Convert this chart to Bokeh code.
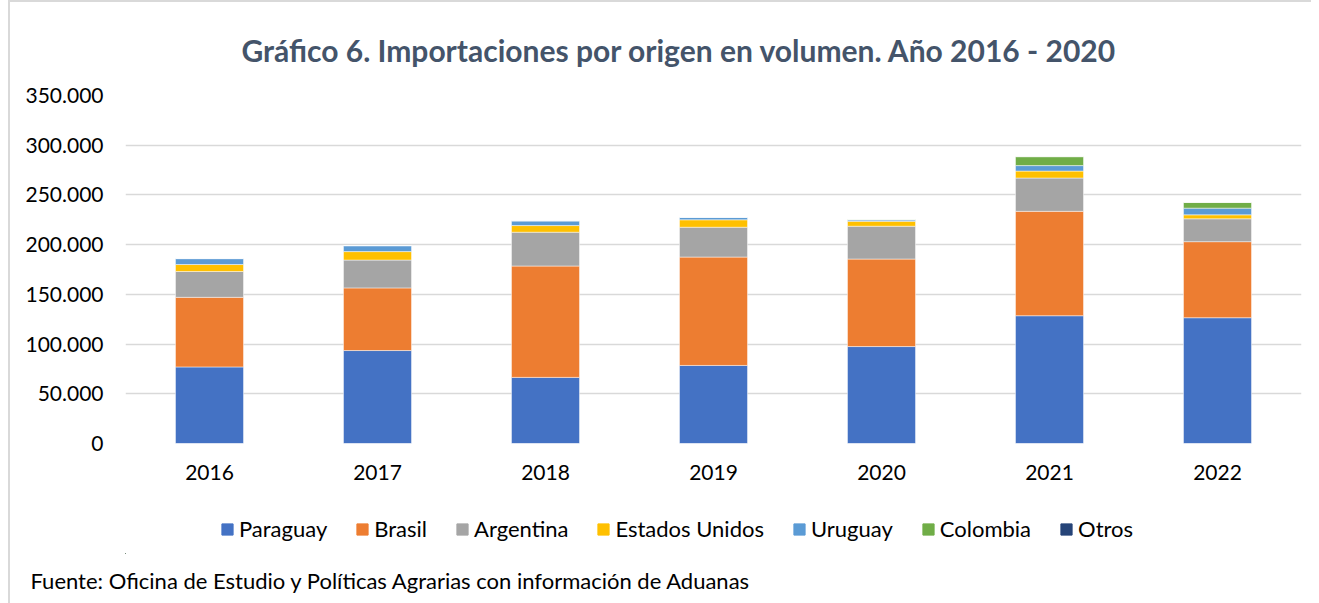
from bokeh.plotting import figure
from bokeh.layouts import column
from bokeh.models import (FactorRange, Range1d, Legend, LegendItem, Title,
                          CustomJSTickFormatter, FixedTicker)
from bokeh.embed import file_html
from bokeh.resources import INLINE

years = ["2016", "2017", "2018", "2019", "2020", "2021", "2022"]
paraguay = [77000, 93500, 66500, 78500, 97500, 128500, 126500]
brasil = [70000, 63000, 112000, 109000, 88000, 105000, 76500]
argentina = [26000, 28000, 34000, 30000, 33000, 33500, 23000]
estados_unidos = [7000, 8500, 6700, 7500, 5000, 7000, 4000]
uruguay = [6000, 6000, 4800, 2500, 1300, 5500, 6700]
colombia = [0, 0, 0, 0, 500, 9000, 5700]
otros = [0, 0, 0, 0, 0, 0, 0]

series_names = ["Paraguay", "Brasil", "Argentina", "Estados Unidos", "Uruguay", "Colombia", "Otros"]
series_keys = ["paraguay", "brasil", "argentina", "eeuu", "uruguay", "colombia", "otros"]
colors = ["#4472C4", "#ED7D31", "#A5A5A5", "#FFC000", "#5B9BD5", "#70AD47", "#264478"]

title_text = "Gráfico 6. Importaciones por origen en volumen. Año 2016 - 2020"
footer_text = "Fuente: Oficina de Estudio y Políticas Agrarias con información de Aduanas"

data = dict(years=years, paraguay=paraguay, brasil=brasil, argentina=argentina,
            eeuu=estados_unidos, uruguay=uruguay, colombia=colombia, otros=otros)

FONT = "Lato"

# ---- main chart ----
p = figure(x_range=FactorRange(*years, range_padding=0), y_range=Range1d(0, 350000),
           frame_width=1176, frame_height=348,
           min_border_left=115, min_border_right=10, min_border_top=85, min_border_bottom=60,
           output_backend="svg", toolbar_location=None, tools="")

p.vbar_stack(series_keys, x="years", width=0.405, color=colors, source=data,
             line_color="white", line_alpha=0.6, line_width=0.8)

p.title.text = title_text
p.title.align = "left"
p.title.offset = 116
p.title.standoff = 55
p.title.text_font = FONT
p.title.text_font_size = "30px"
p.title.text_font_style = "bold"
p.title.text_color = "#44546A"

p.outline_line_color = None
p.xgrid.grid_line_color = None
p.ygrid.grid_line_color = "#D9D9D9"
p.ygrid.grid_line_width = 1.5

p.yaxis.ticker = FixedTicker(ticks=[0, 50000, 100000, 150000, 200000, 250000, 300000, 350000])
p.yaxis.formatter = CustomJSTickFormatter(code="""
return Math.round(tick).toFixed(0).replace(/\\B(?=(\\d{3})+(?!\\d))/g, '.');
""")
for ax in (p.xaxis, p.yaxis):
    ax.axis_line_color = None
    ax.major_tick_line_color = None
    ax.minor_tick_line_color = None
    ax.major_tick_out = 0
    ax.major_tick_in = 0
    ax.major_label_text_font = FONT
    ax.major_label_text_font_size = "21px"
    ax.major_label_text_color = "#000000"
p.yaxis.major_label_standoff = 22
p.xaxis.major_label_standoff = 21

# ---- legend + source strip (frame aligned with the main chart) ----
p2 = figure(x_range=Range1d(0, 1), y_range=Range1d(0, 1),
            frame_width=1176, frame_height=50,
            min_border_left=115, min_border_right=10, min_border_top=0, min_border_bottom=0,
            x_axis_type=None, y_axis_type=None,
            output_backend="svg", toolbar_location=None, tools="")
p2.title = None
p2.grid.visible = False
p2.outline_line_color = None

items = []
for name, c in zip(series_names, colors):
    r = p2.vbar(x=[-10], top=[-10], bottom=[-10], width=0.1, color=c)
    items.append(LegendItem(label=name, renderers=[r]))

legend = Legend(items=items, orientation="horizontal", location=(95, 11),
                glyph_width=14, glyph_height=14, label_standoff=5, spacing=28,
                padding=0, margin=0, border_line_color=None, background_fill_alpha=0,
                label_text_font=FONT, label_text_font_size="22px", label_text_color="#000000")
p2.add_layout(legend, "center")

footer = Title(text=footer_text, align="left", offset=-95, standoff=22,
               text_font=FONT, text_font_size="22px", text_font_style="normal",
               text_color="#000000")
p2.add_layout(footer, "below")

layout = column(p, p2, spacing=0)
layout.styles = {"border-top": "2px solid #D9D9D9", "border-left": "2px solid #D9D9D9",
                 "margin-top": "0px", "margin-left": "8px"}

open("out.html", "w").write(file_html(layout, INLINE))
